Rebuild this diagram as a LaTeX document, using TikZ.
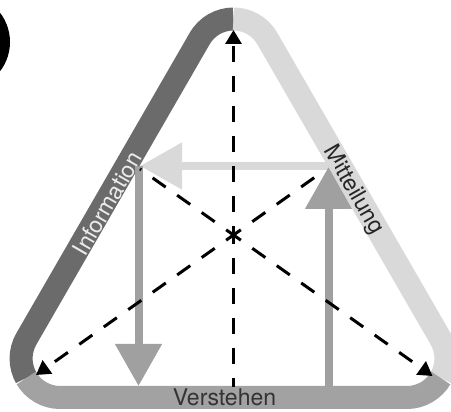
\documentclass[tikz,border=0pt]{standalone}
\usepackage{fontspec}
\setmainfont{TeX Gyre Heros}
\usetikzlibrary{arrows.meta}
\definecolor{bandL}{HTML}{6B6B6B}
\definecolor{bandR}{HTML}{D9D9D9}
\definecolor{bandB}{HTML}{A2A2A2}
\definecolor{arrG}{HTML}{A0A0A0}
\definecolor{arrL}{HTML}{D9D9D9}
\definecolor{txtD}{HTML}{333333}
\tikzset{
  band/.style={line width=23pt, line cap=butt},
  dline/.style={line width=3pt, dash pattern=on 16pt off 14pt, dash phase=7pt, -{Triangle[width=16pt,length=14pt]}},
  dplain/.style={line width=3pt, dash pattern=on 16pt off 14pt, dash phase=7pt},
  bigarrow/.style={line width=8pt, -{Triangle[width=45pt,length=42pt]}},
  lbl/.style={inner sep=0pt, font=\fontsize{23}{23}\selectfont},
}
\begin{document}
\begin{tikzpicture}[x=1pt,y=1pt]
\useasboundingbox (0,0) rectangle (451,-412);
\clip (0,0) rectangle (451,-412);
% marker circle
\fill[black] (-38,-42) circle (48pt);
% bands
\draw[band, bandL] (233.5,-19) arc[start angle=90, end angle=150, radius=39pt]
  -- (26.3,-339) arc[start angle=150, end angle=210, radius=39pt];
\draw[band, bandR] (233.5,-19) arc[start angle=90, end angle=30, radius=39pt]
  -- (440.7,-339) arc[start angle=30, end angle=-30, radius=39pt];
\draw[band, bandB] (26.3,-378) arc[start angle=210, end angle=270, radius=39pt]
  -- (406.95,-397.5) arc[start angle=270, end angle=330, radius=39pt];
% labels
\node[lbl, txtD, anchor=base] (verst) at (224.5,-406) {Verstehen};
\node[lbl, white!92!black, rotate=60] (info) at (107.5,-203.5) {Information};
\node[lbl, black!85, rotate=-60] (mitt) at (353,-190) {Mitteilung};
% coordinates
\coordinate (ctr) at (233.5,-235);
\coordinate (top) at (233.5,-30);
\coordinate (bot) at (233.5,-387);
\coordinate (bl) at (36,-375);
\coordinate (br) at (432.5,-376);
\coordinate (ul) at (140,-169);
\coordinate (ur) at (325,-170);
\coordinate (hS) at (335,-166);
\coordinate (hE) at (140,-166);
\coordinate (lvS) at (138.5,-166);
\coordinate (lvE) at (138.5,-386);
\coordinate (rvS) at (328.5,-387);
\coordinate (rvE) at (328.5,-167);
% gray arrows
\draw[bigarrow, arrL] (hS) -- (hE);
\draw[bigarrow, arrG] (lvS) -- (lvE);
\draw[bigarrow, arrG] (rvS) -- (rvE);
% dashed lines
\draw[dline] (ctr) -- (top);
\draw[dplain] (ctr) -- (bot);
\draw[dline] (ctr) -- (bl);
\draw[dline] (ctr) -- (br);
\draw[dplain] (ctr) -- (ul);
\draw[dplain] (ctr) -- (ur);
\end{tikzpicture}
\end{document}
